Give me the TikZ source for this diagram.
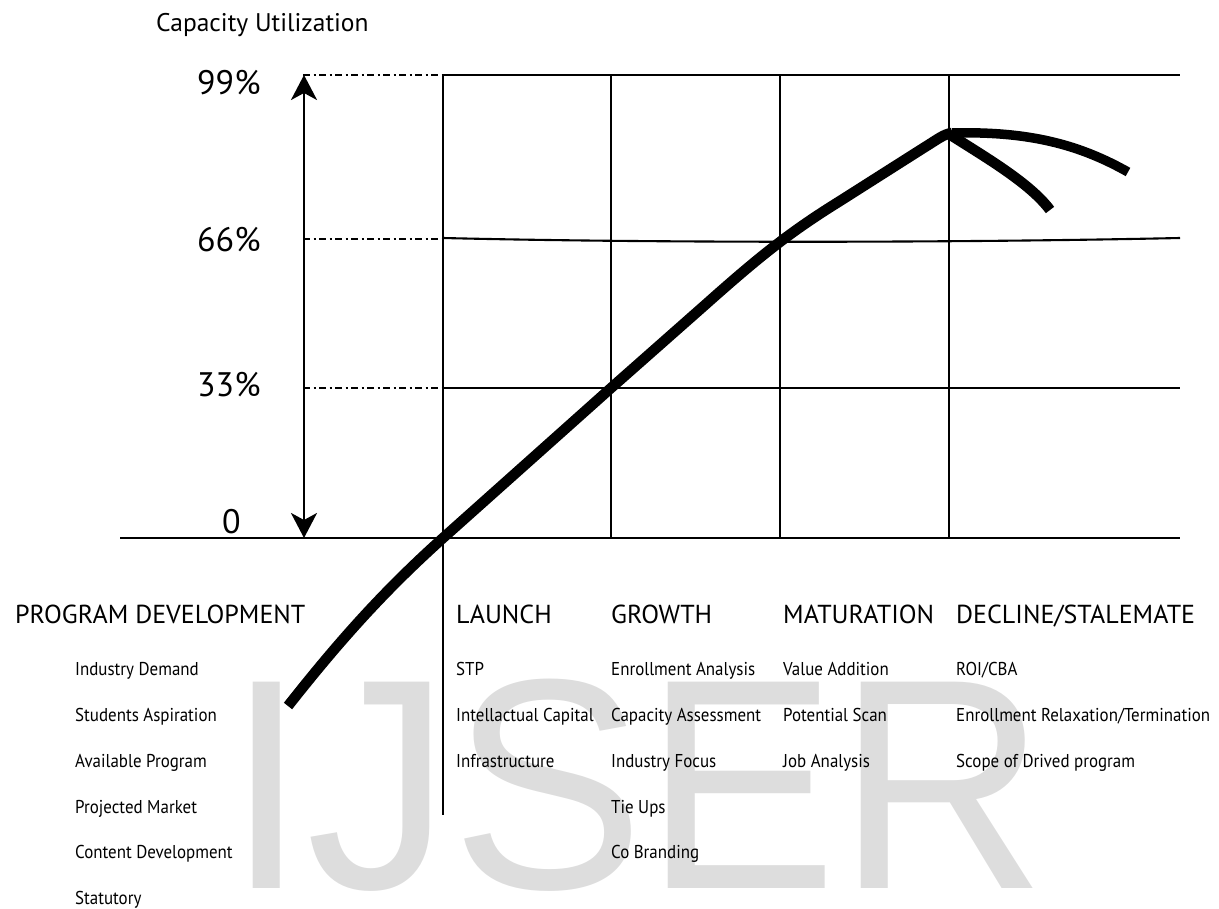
\documentclass[tikz,border=0pt]{standalone}
\usepackage{fontspec}
\setmainfont{PT Sans}
\newfontfamily\itemfont[FakeStretch=0.91]{PT Sans}
\newfontfamily\markfont{Liberation Sans}
\usetikzlibrary{arrows.meta}
\definecolor{markgray}{RGB}{221,221,221}
\begin{document}
\begin{tikzpicture}[x=1pt,y=-1pt,
  grid/.style={line width=2.6pt},
  thin grid/.style={line width=2.1pt},
  lead/.style={line width=2.2pt, dash pattern=on 7pt off 3.5pt on 2pt off 3.5pt},
  life/.style={line width=10.5pt, line join=round},
  lbl/.style={inner sep=0pt, anchor=base west},
  pct/.style={lbl, font=\fontsize{34}{34}\selectfont},
  stage/.style={lbl, font=\fontsize{26}{26}\selectfont},
  item/.style={lbl, font=\itemfont\fontsize{18.6}{18.6}\selectfont},
  range arrow/.style={grid, {Stealth[length=25pt,width=26pt,inset=7pt]}-{Stealth[length=25pt,width=26pt,inset=7pt]}},
]
\useasboundingbox (0,0) rectangle (1219,909);

% watermark behind everything
\node[lbl, font=\fontsize{300}{300}\markfont, text=markgray] (mark) at (226,888)
  {\scalebox{0.965}[1]{IJSER}};

% level and column coordinates
\coordinate (t99) at (303,75);   \coordinate (g99) at (443,75);  \coordinate (e99) at (1180,75);
\coordinate (t66) at (303,239);  \coordinate (g66) at (443,238); \coordinate (e66) at (1180,238);
\coordinate (t33) at (303,388);  \coordinate (g33) at (443,388); \coordinate (e33) at (1180,388);
\coordinate (a0) at (120,538);   \coordinate (e0) at (1180,538);
\coordinate (c1) at (443,815);
\coordinate (c2t) at (611,75);  \coordinate (c2b) at (611,538);
\coordinate (c3t) at (780,75);  \coordinate (c3b) at (780,538);
\coordinate (c4t) at (949,75);  \coordinate (c4b) at (949,538);
\coordinate (arT) at (304,75);  \coordinate (arB) at (304,538);

% leader lines from the scale into the grid
\draw[lead] (t99) -- (g99);
\draw[lead] (t66) -- (443,239);
\draw[lead] (t33) -- (g33);

% grid
\draw[grid] (g99) -- (e99);
\draw[thin grid] (g66) .. controls (650,243) and (950,243) .. (e66);
\draw[grid] (g33) -- (e33);
\draw[grid] (a0) -- (e0);
\draw[grid] (g99) -- (c1);
\draw[grid] (c2t) -- (c2b);
\draw[grid] (c3t) -- (c3b);
\draw[grid] (c4t) -- (c4b);

% capacity range arrow
\draw[range arrow] (arT) -- (arB);

% life-cycle curve
\coordinate (peak) at (952,133);
\draw[life] (288,706) .. controls (340,640) and (385,590) .. (443,538)
  -- (611,388) -- (705,305) .. controls (760,256) and (790,232) .. (840,201)
  -- (925,147) .. controls (938,139) and (944,134) .. (peak);
\draw[life, line width=9.5pt] (peak) .. controls (1030,131) and (1080,145) .. (1128,172);
\draw[life] (949,134) .. controls (985,157) and (1030,183) .. (1050,210);

% scale labels
\node[lbl, font=\fontsize{25.5}{25.5}\selectfont] (title) at (156,32) {Capacity Utilization};
\node[pct] (p99) at (197,95) {99\%};
\node[pct] (p66) at (197,252) {66\%};
\node[pct] (p33) at (197,397) {33\%};
\node[pct] (p0) at (222,533) {0};

% stage headings
\node[stage] (hdev) at (15,623) {PROGRAM DEVELOPMENT};
\node[stage] (hlau) at (456,623) {LAUNCH};
\node[stage] (hgro) at (611,623) {GROWTH};
\node[stage] (hmat) at (783,623) {MATURATION};
\node[stage] (hdec) at (956,623) {DECLINE/STALEMATE};

% program development
\node[item] (d1) at (75,675) {Industry Demand};
\node[item] (d2) at (75,721) {Students Aspiration};
\node[item] (d3) at (75,767) {Available Program};
\node[item] (d4) at (75,813) {Projected Market};
\node[item] (d5) at (75,858) {Content Development};
\node[item] (d6) at (75,904) {Statutory};

% launch
\node[item] (l1) at (456,675) {STP};
\node[item] (l2) at (456,721) {Intellactual Capital};
\node[item] (l3) at (456,767) {Infrastructure};

% growth
\node[item] (g1) at (611,675) {Enrollment Analysis};
\node[item] (g2) at (611,721) {Capacity Assessment};
\node[item] (g3) at (611,767) {Industry Focus};
\node[item] (g4) at (611,813) {Tie Ups};
\node[item] (g5) at (611,858) {Co Branding};

% maturation
\node[item] (m1) at (783,675) {Value Addition};
\node[item] (m2) at (783,721) {Potential Scan};
\node[item] (m3) at (783,767) {Job Analysis};

% decline / stalemate
\node[item] (s1) at (956,675) {ROI/CBA};
\node[item] (s2) at (956,721) {Enrollment Relaxation/Termination};
\node[item] (s3) at (956,767) {Scope of Drived program};
\end{tikzpicture}
\end{document}
